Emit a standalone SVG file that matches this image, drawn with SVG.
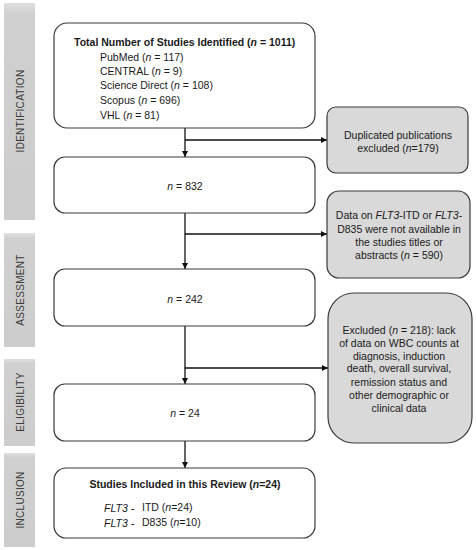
<svg xmlns="http://www.w3.org/2000/svg" width="476" height="550" viewBox="0 0 476 550">
<defs>
<style>
.t{font-family:"Liberation Sans",Arial,sans-serif;font-size:10.5px;fill:#1a1a1a}
.b{font-weight:bold}
.c{text-anchor:middle}
.side{font-family:"Liberation Sans",Arial,sans-serif;font-size:10px;fill:#3a3a3a;text-anchor:middle;letter-spacing:0.3px}
.box{fill:#fff;stroke:#3a3a3a;stroke-width:1.2}
.gbox{fill:#d9d9d9;stroke:#3a3a3a;stroke-width:1.2}
.bar{fill:url(#g)}
.ln{stroke:#111;stroke-width:1.3;fill:none}
</style>
<linearGradient id="g" x1="0" y1="0" x2="0" y2="1">
<stop offset="0" stop-color="#e0e0e0"/>
<stop offset="0.05" stop-color="#d0d0d0"/>
<stop offset="1" stop-color="#cdcdcd"/>
</linearGradient>
<marker id="ah" viewBox="0 0 10 10" refX="10" refY="5" markerWidth="6" markerHeight="6" markerUnits="userSpaceOnUse" orient="auto">
<path d="M0,0 L10,5 L0,10 z" fill="#111"/>
</marker>
</defs>

<g id="stage-identification">
<rect class="bar" x="4" y="3" width="31" height="217"/>
<text class="side" transform="translate(24,111) rotate(-90)">IDENTIFICATION</text>
</g>
<g id="stage-assessment">
<rect class="bar" x="4" y="233" width="31" height="114"/>
<text class="side" transform="translate(24,290) rotate(-90)">ASSESSMENT</text>
</g>
<g id="stage-eligibility">
<rect class="bar" x="4" y="359" width="31" height="87"/>
<text class="side" transform="translate(24,402) rotate(-90)">ELIGIBILITY</text>
</g>
<g id="stage-inclusion">
<rect class="bar" x="4" y="453" width="31" height="94"/>
<text class="side" transform="translate(24,500) rotate(-90)">INCLUSION</text>
</g>

<g id="connectors">
<line class="ln" x1="185" y1="128" x2="185" y2="157" marker-end="url(#ah)"/>
<line class="ln" x1="185" y1="140" x2="327" y2="140" marker-end="url(#ah)"/>
<line class="ln" x1="185" y1="213" x2="185" y2="269" marker-end="url(#ah)"/>
<line class="ln" x1="185" y1="234" x2="327" y2="234" marker-end="url(#ah)"/>
<line class="ln" x1="185" y1="326" x2="185" y2="384" marker-end="url(#ah)"/>
<line class="ln" x1="185" y1="368" x2="328" y2="368" marker-end="url(#ah)"/>
<line class="ln" x1="185" y1="441" x2="185" y2="468" marker-end="url(#ah)"/>
</g>

<g id="node-total">
<rect class="box" x="54" y="23" width="261" height="105" rx="13"/>
<text class="t b" x="74" y="46">Total Number of Studies Identified (<tspan font-style="italic">n</tspan> = 1011)</text>
<text class="t" x="100" y="61">PubMed (<tspan font-style="italic">n</tspan> = 117)</text>
<text class="t" x="100" y="75">CENTRAL (<tspan font-style="italic">n</tspan> = 9)</text>
<text class="t" x="100" y="89">Science Direct (<tspan font-style="italic">n</tspan> = 108)</text>
<text class="t" x="100" y="104">Scopus (<tspan font-style="italic">n</tspan> = 696)</text>
<text class="t" x="100" y="119">VHL (<tspan font-style="italic">n</tspan> = 81)</text>
</g>

<g id="node-duplicates">
<rect class="gbox" x="327" y="107" width="141" height="66" rx="9"/>
<text class="t c" x="398" y="139">Duplicated publications</text>
<text class="t c" x="398" y="152">excluded (<tspan font-style="italic">n</tspan>=179)</text>
</g>

<g id="node-832">
<rect class="box" x="54" y="157" width="261" height="56" rx="11"/>
<text class="t c" x="185" y="190"><tspan font-style="italic">n</tspan> = 832</text>
</g>

<g id="node-flt3-unavailable">
<rect class="gbox" x="327" y="191" width="143" height="87" rx="12"/>
<text class="t c" x="399" y="219">Data on <tspan font-style="italic">FLT3</tspan>-ITD or <tspan font-style="italic">FLT3</tspan>-</text>
<text class="t c" x="399" y="233">D835 were not available in</text>
<text class="t c" x="399" y="246">the studies titles or</text>
<text class="t c" x="399" y="259">abstracts (<tspan font-style="italic">n</tspan> = 590)</text>
</g>

<g id="node-242">
<rect class="box" x="54" y="269" width="261" height="57" rx="11"/>
<text class="t c" x="185" y="303"><tspan font-style="italic">n</tspan> = 242</text>
</g>

<g id="node-excluded">
<rect class="gbox" x="328" y="293" width="144" height="150" rx="26"/>
<text class="t c" x="399" y="334">Excluded (<tspan font-style="italic">n</tspan> = 218): lack</text>
<text class="t c" x="399" y="347">of data on WBC counts at</text>
<text class="t c" x="399" y="360">diagnosis, induction</text>
<text class="t c" x="399" y="372">death, overall survival,</text>
<text class="t c" x="399" y="386">remission status and</text>
<text class="t c" x="399" y="399">other demographic or</text>
<text class="t c" x="399" y="412">clinical data</text>
</g>

<g id="node-24">
<rect class="box" x="54" y="384" width="261" height="57" rx="11"/>
<text class="t c" x="185" y="417"><tspan font-style="italic">n</tspan> = 24</text>
</g>

<g id="node-included">
<rect class="box" x="54" y="468" width="261" height="70" rx="12"/>
<text class="t b c" x="185" y="488">Studies Included in this Review (<tspan font-style="italic">n</tspan>=24)</text>
<text class="t" x="104" y="512" font-style="italic">FLT3 -</text>
<text class="t" x="142" y="511">ITD (<tspan font-style="italic">n</tspan>=24)</text>
<text class="t" x="104" y="527" font-style="italic">FLT3 -</text>
<text class="t" x="142" y="526">D835 (<tspan font-style="italic">n</tspan>=10)</text>
</g>
</svg>
